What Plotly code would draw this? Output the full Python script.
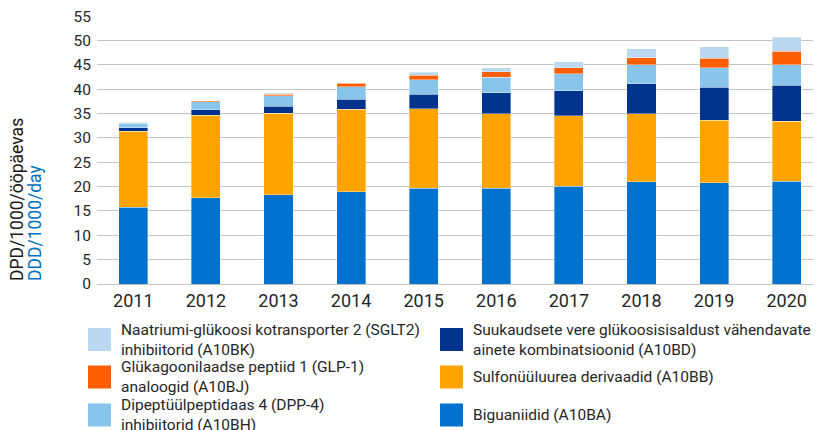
import plotly.graph_objects as go

years = ["2011", "2012", "2013", "2014", "2015", "2016", "2017", "2018", "2019", "2020"]

biguaniidid = [15.8, 17.7, 18.3, 19.0, 19.7, 19.7, 20.1, 21.0, 20.75, 21.1]
sulfonyyluurea = [15.6, 17.0, 16.8, 16.9, 16.3, 15.3, 14.5, 14.0, 12.85, 12.3]
kombinatsioonid = [0.65, 1.1, 1.4, 2.0, 3.0, 4.25, 5.1, 6.1, 6.8, 7.4]
dpp4 = [1.0, 1.6, 2.2, 2.6, 3.0, 3.25, 3.5, 3.9, 4.05, 4.2]
glp1 = [0.05, 0.2, 0.3, 0.7, 0.9, 1.05, 1.2, 1.5, 1.95, 2.8]
sglt2 = [0.1, 0.0, 0.15, 0.1, 0.6, 0.9, 1.3, 1.8, 2.3, 2.9]

y_ticks = [0, 5, 10, 15, 20, 25, 30, 35, 40, 45, 50, 55]

series = [
    ("Biguaniidid (A10BA)", biguaniidid, "#0072CE"),
    ("Sulfonüüluurea derivaadid (A10BB)", sulfonyyluurea, "#FFA300"),
    ("Suukaudsete vere glükoosisisaldust vähendavate<br>ainete kombinatsioonid (A10BD)", kombinatsioonid, "#00338D"),
    ("Dipeptüülpeptidaas 4 (DPP-4)<br>inhibiitorid (A10BH)", dpp4, "#89C5EA"),
    ("Glükagoonilaadse peptiid 1 (GLP-1)<br>analoogid (A10BJ)", glp1, "#FF5F00"),
    ("Naatriumi-glükoosi kotransporter 2 (SGLT2)<br>inhibiitorid (A10BK)", sglt2, "#B8D9EF"),
]

FONT = "Roboto, sans-serif"

OFF = 8  # default page body margin
# desired plot area in page pixels
PX0, PX1, PY0, PY1 = 97, 823, 16, 284
W = PX1 - OFF
H = 430 - OFF
L, T = PX0 - OFF, PY0 - OFF
R = 0
PW, PH = PX1 - PX0, PY1 - PY0
B = H - T - PH

def px(x):
    return (x - PX0) / PW

def py(y):
    return (PY1 - y) / PH

fig = go.Figure()
for name, vals, col in series:
    fig.add_trace(go.Bar(
        x=years, y=vals, name=name.replace("<br>", " "),
        marker=dict(color=col, line=dict(color="rgba(255,255,255,0.6)", width=0.6)),
        showlegend=False,
    ))

# manual legend: left column top->bottom then right column
legend_order = [
    (series[5], 88, 339.5), (series[4], 88, 377), (series[3], 88, 415),
    (series[2], 440, 339.5), (series[1], 440, 377), (series[0], 440, 415),
]
shapes = []
annotations = []
for (name, vals, col), sx, sy in legend_order:
    shapes.append(dict(type="rect", xref="paper", yref="paper",
                       x0=px(sx), x1=px(sx + 23), y0=py(sy + 11.5), y1=py(sy - 11.5),
                       fillcolor=col, line=dict(width=0)))
    annotations.append(dict(xref="paper", yref="paper", x=px(sx + 31), y=py(sy),
                            xanchor="left", yanchor="middle", align="left",
                            text=name, showarrow=False,
                            font=dict(family=FONT, size=15.5, color="#262626")))

annotations.append(dict(xref="paper", yref="paper", x=px(16.5), y=py(283),
                        xanchor="center", yanchor="bottom", textangle=-90,
                        text="DPD/1000/ööpäevas", showarrow=False,
                        font=dict(family=FONT, size=17.5, color="#1a1a1a")))
annotations.append(dict(xref="paper", yref="paper", x=px(35), y=py(283),
                        xanchor="center", yanchor="bottom", textangle=-90,
                        text="DDD/1000/day", showarrow=False,
                        font=dict(family=FONT, size=17.5, color="#0070C0")))

fig.update_layout(
    width=W, height=H,
    margin=dict(l=L, r=R, t=T, b=B, autoexpand=False),
    barmode="stack", bargap=0.6,
    plot_bgcolor="white", paper_bgcolor="white",
    font=dict(family=FONT, size=15, color="#262626"),
    shapes=shapes, annotations=annotations,
    xaxis=dict(showgrid=False, showline=False, ticks="", ticklabelstandoff=4,
               tickfont=dict(size=18, family=FONT, color="#262626")),
    yaxis=dict(range=[0, 55.05], tickmode="array", tickvals=y_ticks,
               showgrid=True, gridcolor="#C4C4C4",
               gridwidth=1, zeroline=True, zerolinecolor="#C4C4C4", zerolinewidth=1,
               ticks="", ticklabelstandoff=5, ticklabeloverflow="allow",
               tickfont=dict(size=15.5, family=FONT, color="#262626")),
)

fig.write_html("out.html")
